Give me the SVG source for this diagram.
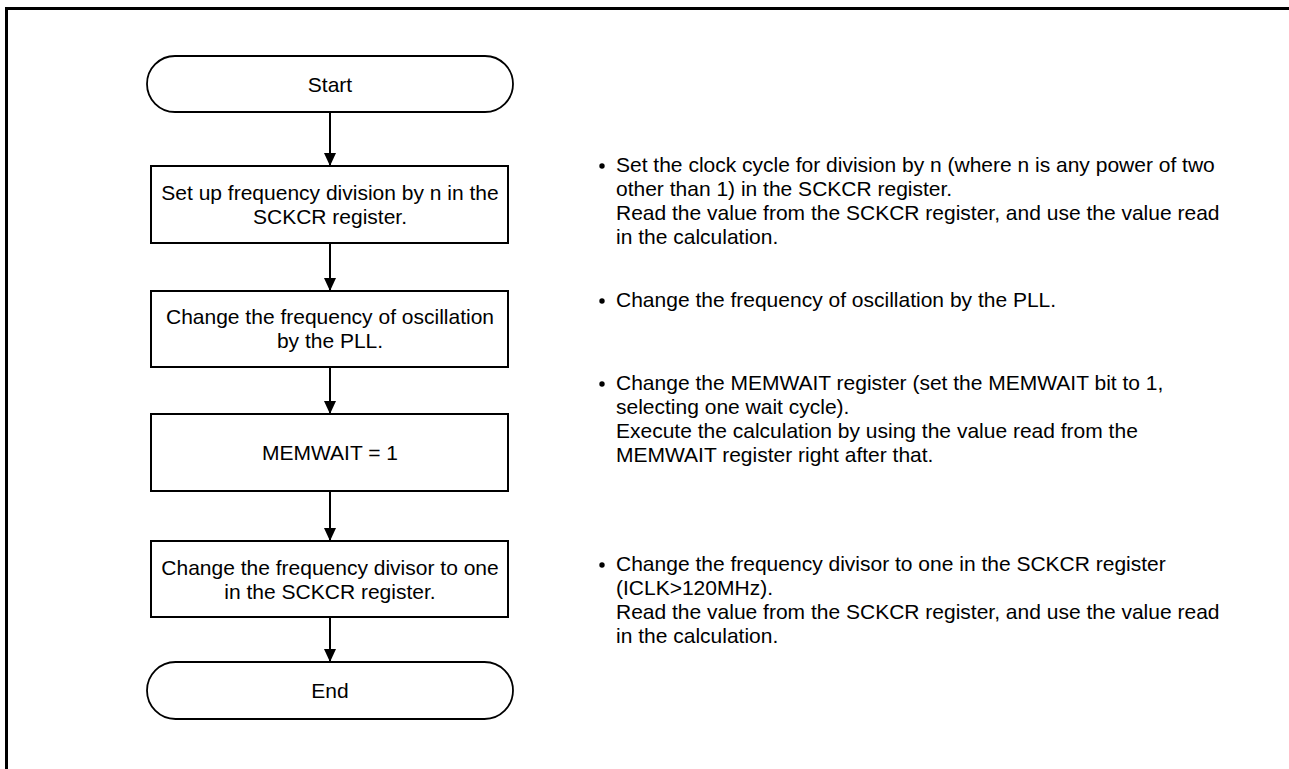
<svg xmlns="http://www.w3.org/2000/svg" width="1289" height="769" viewBox="0 0 1289 769">
<style>
text{font-family:"Liberation Sans",Arial,sans-serif;font-size:21px;fill:#000}
.c{text-anchor:middle}
.box{fill:#fff;stroke:#000;stroke-width:2}
.term{fill:#fff;stroke:#000;stroke-width:1.8}
.conn{stroke:#000;stroke-width:2;fill:none;marker-end:url(#arr)}
</style>
<defs>
<marker id="arr" viewBox="0 0 12 13" refX="6" refY="13" markerWidth="12" markerHeight="13" markerUnits="userSpaceOnUse" orient="0">
<path d="M0,0 L12,0 L6,13 Z" fill="#000"/>
</marker>
</defs>
<rect width="1289" height="769" fill="#fff"/>
<g id="frame" stroke="#000" stroke-width="3" fill="none">
<line x1="5" y1="8.5" x2="1289" y2="8.5"/>
<line x1="6.5" y1="7" x2="6.5" y2="769"/>
</g>
<g id="connectors">
<line class="conn" x1="330" y1="113" x2="330" y2="166"/>
<line class="conn" x1="330" y1="243" x2="330" y2="291"/>
<line class="conn" x1="330" y1="367" x2="330" y2="414"/>
<line class="conn" x1="330" y1="491" x2="330" y2="541"/>
<line class="conn" x1="330" y1="617" x2="330" y2="662"/>
</g>
<g id="start">
<rect class="term" x="147" y="56" width="366" height="56" rx="28" ry="28"/>
<text class="c" x="330" y="91.5">Start</text>
</g>
<g id="step1">
<rect class="box" x="151" y="166" width="357" height="77"/>
<text class="c" x="330" y="200">Set up frequency division by n in the</text>
<text class="c" x="330" y="224">SCKCR register.</text>
</g>
<g id="step2">
<rect class="box" x="151" y="291" width="357" height="76"/>
<text class="c" x="330" y="324">Change the frequency of oscillation</text>
<text class="c" x="330" y="348">by the PLL.</text>
</g>
<g id="step3">
<rect class="box" x="151" y="414" width="357" height="77"/>
<text class="c" x="330" y="460">MEMWAIT = 1</text>
</g>
<g id="step4">
<rect class="box" x="151" y="541" width="357" height="76"/>
<text class="c" x="330" y="575">Change the frequency divisor to one</text>
<text class="c" x="330" y="599">in the SCKCR register.</text>
</g>
<g id="end">
<rect class="term" x="147" y="662" width="366" height="57" rx="28.5" ry="28.5"/>
<text class="c" x="330" y="698">End</text>
</g>
<g id="note1">
<circle cx="602" cy="166" r="2.7"/>
<text x="616" y="172">Set the clock cycle for division by n (where n is any power of two</text>
<text x="616" y="196">other than 1) in the SCKCR register.</text>
<text x="616" y="220">Read the value from the SCKCR register, and use the value read</text>
<text x="616" y="244">in the calculation.</text>
</g>
<g id="note2">
<circle cx="602" cy="301" r="2.7"/>
<text x="616" y="307">Change the frequency of oscillation by the PLL.</text>
</g>
<g id="note3">
<circle cx="602" cy="384" r="2.7"/>
<text x="616" y="390">Change the MEMWAIT register (set the MEMWAIT bit to 1,</text>
<text x="616" y="414">selecting one wait cycle).</text>
<text x="616" y="438">Execute the calculation by using the value read from the</text>
<text x="616" y="462">MEMWAIT register right after that.</text>
</g>
<g id="note4">
<circle cx="602" cy="565" r="2.7"/>
<text x="616" y="571">Change the frequency divisor to one in the SCKCR register</text>
<text x="616" y="595">(ICLK&gt;120MHz).</text>
<text x="616" y="619">Read the value from the SCKCR register, and use the value read</text>
<text x="616" y="643">in the calculation.</text>
</g>
</svg>
